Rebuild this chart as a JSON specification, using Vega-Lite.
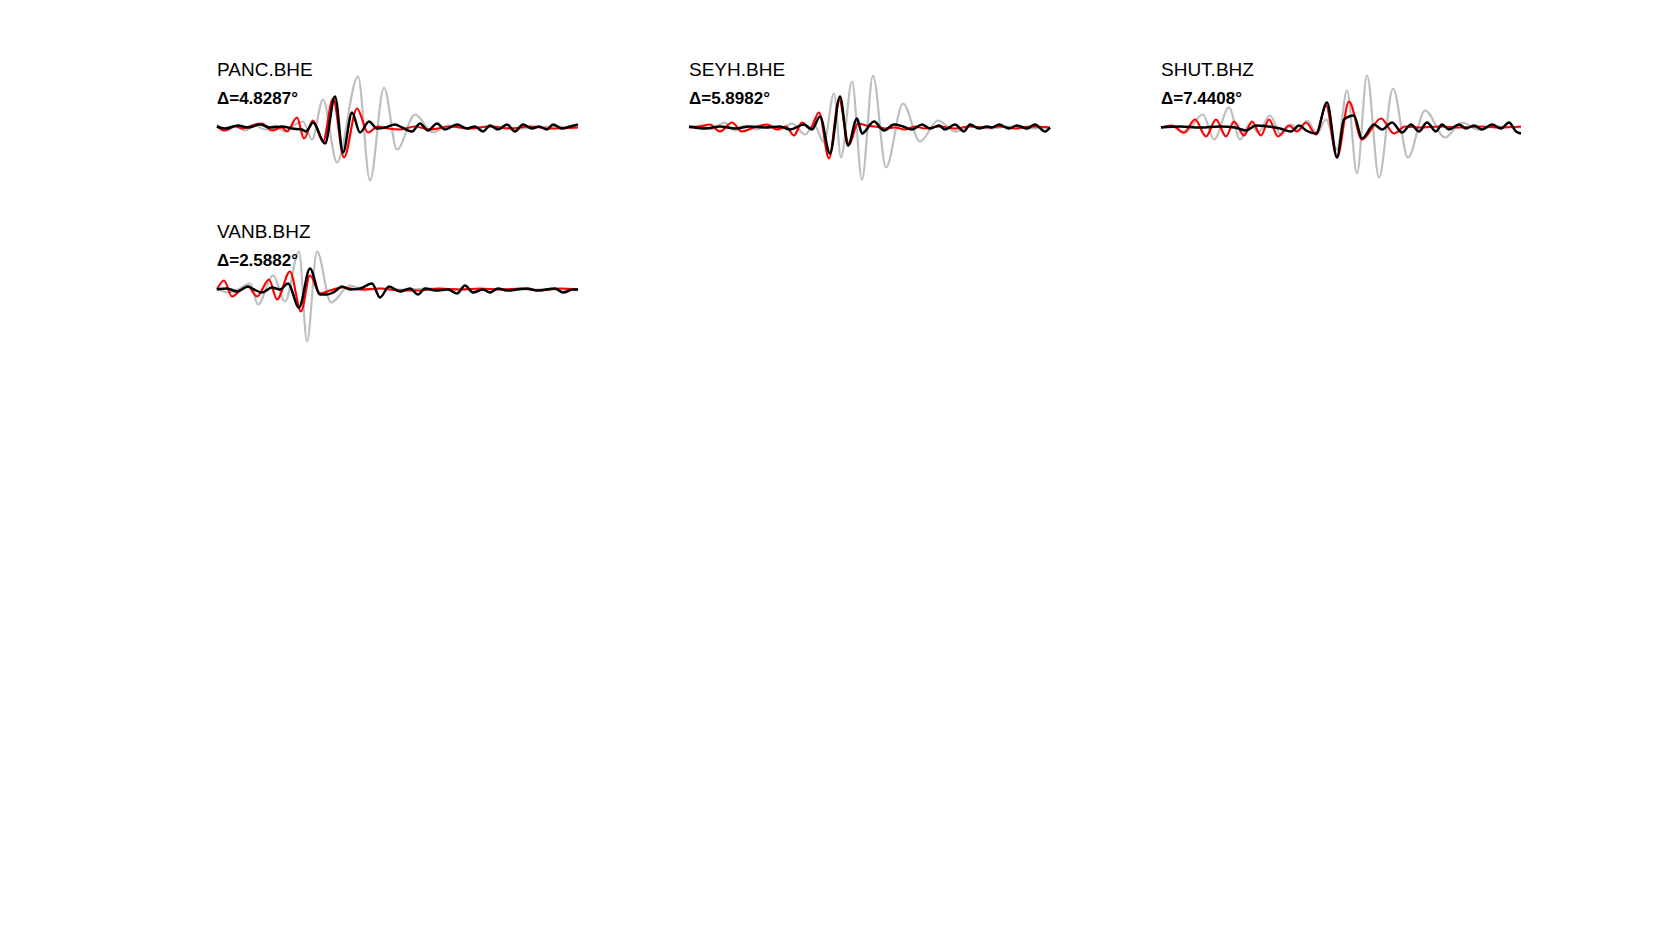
{
"$schema": "https://vega.github.io/schema/vega-lite/v6.json",
"background": "white",
"padding": {"left": 212, "top": 60.5, "right": 0, "bottom": 0},
"datasets": {
"w": [
{"s":"PANC","c":"g","t":0,"v":3},{"s":"PANC","c":"g","t":8,"v":-3},{"s":"PANC","c":"g","t":18,"v":2},{"s":"PANC","c":"g","t":28,"v":-3},{"s":"PANC","c":"g","t":38,"v":2},{"s":"PANC","c":"g","t":48,"v":-2},{"s":"PANC","c":"g","t":58,"v":2},{"s":"PANC","c":"g","t":68,"v":-4},{"s":"PANC","c":"g","t":78,"v":3},{"s":"PANC","c":"g","t":86,"v":6},{"s":"PANC","c":"g","t":95,"v":-12},{"s":"PANC","c":"g","t":106,"v":28},{"s":"PANC","c":"g","t":120,"v":-35},{"s":"PANC","c":"g","t":141,"v":51},{"s":"PANC","c":"g","t":153,"v":-53},{"s":"PANC","c":"g","t":167,"v":40},{"s":"PANC","c":"g","t":180,"v":-22},{"s":"PANC","c":"g","t":198,"v":13},{"s":"PANC","c":"g","t":216,"v":-5},{"s":"PANC","c":"g","t":231,"v":2},{"s":"PANC","c":"g","t":248,"v":-1},{"s":"PANC","c":"g","t":273,"v":1},{"s":"PANC","c":"g","t":303,"v":-1},{"s":"PANC","c":"g","t":333,"v":1},{"s":"PANC","c":"g","t":361,"v":0},
{"s":"PANC","c":"r","t":0,"v":1},{"s":"PANC","c":"r","t":8,"v":-3},{"s":"PANC","c":"r","t":18,"v":1},{"s":"PANC","c":"r","t":26,"v":-1},{"s":"PANC","c":"r","t":35,"v":2},{"s":"PANC","c":"r","t":45,"v":4},{"s":"PANC","c":"r","t":55,"v":-3},{"s":"PANC","c":"r","t":65,"v":0},{"s":"PANC","c":"r","t":70,"v":-4},{"s":"PANC","c":"r","t":80,"v":10},{"s":"PANC","c":"r","t":87,"v":-11},{"s":"PANC","c":"r","t":96,"v":7},{"s":"PANC","c":"r","t":106,"v":-14},{"s":"PANC","c":"r","t":116,"v":29},{"s":"PANC","c":"r","t":127,"v":-30},{"s":"PANC","c":"r","t":140,"v":19},{"s":"PANC","c":"r","t":151,"v":-5},{"s":"PANC","c":"r","t":161,"v":1},{"s":"PANC","c":"r","t":171,"v":-1},{"s":"PANC","c":"r","t":183,"v":-2},{"s":"PANC","c":"r","t":198,"v":1},{"s":"PANC","c":"r","t":213,"v":-2},{"s":"PANC","c":"r","t":233,"v":1},{"s":"PANC","c":"r","t":253,"v":-1},{"s":"PANC","c":"r","t":273,"v":1},{"s":"PANC","c":"r","t":293,"v":-1},{"s":"PANC","c":"r","t":313,"v":1},{"s":"PANC","c":"r","t":333,"v":-1},{"s":"PANC","c":"r","t":361,"v":0},
{"s":"PANC","c":"k","t":0,"v":1},{"s":"PANC","c":"k","t":8,"v":-1},{"s":"PANC","c":"k","t":21,"v":2},{"s":"PANC","c":"k","t":31,"v":0},{"s":"PANC","c":"k","t":43,"v":3},{"s":"PANC","c":"k","t":53,"v":0},{"s":"PANC","c":"k","t":65,"v":1},{"s":"PANC","c":"k","t":75,"v":-1},{"s":"PANC","c":"k","t":85,"v":-2},{"s":"PANC","c":"k","t":89,"v":-4},{"s":"PANC","c":"k","t":96,"v":5},{"s":"PANC","c":"k","t":108,"v":-16},{"s":"PANC","c":"k","t":118,"v":31},{"s":"PANC","c":"k","t":126,"v":-25},{"s":"PANC","c":"k","t":135,"v":15},{"s":"PANC","c":"k","t":143,"v":-5},{"s":"PANC","c":"k","t":152,"v":6},{"s":"PANC","c":"k","t":160,"v":-1},{"s":"PANC","c":"k","t":168,"v":0},{"s":"PANC","c":"k","t":178,"v":3},{"s":"PANC","c":"k","t":185,"v":0},{"s":"PANC","c":"k","t":195,"v":-4},{"s":"PANC","c":"k","t":203,"v":4},{"s":"PANC","c":"k","t":211,"v":-3},{"s":"PANC","c":"k","t":220,"v":4},{"s":"PANC","c":"k","t":228,"v":-2},{"s":"PANC","c":"k","t":240,"v":3},{"s":"PANC","c":"k","t":250,"v":-1},{"s":"PANC","c":"k","t":258,"v":1},{"s":"PANC","c":"k","t":266,"v":-4},{"s":"PANC","c":"k","t":273,"v":2},{"s":"PANC","c":"k","t":281,"v":-2},{"s":"PANC","c":"k","t":290,"v":3},{"s":"PANC","c":"k","t":298,"v":-4},{"s":"PANC","c":"k","t":306,"v":3},{"s":"PANC","c":"k","t":315,"v":-1},{"s":"PANC","c":"k","t":322,"v":1},{"s":"PANC","c":"k","t":330,"v":-2},{"s":"PANC","c":"k","t":336,"v":3},{"s":"PANC","c":"k","t":345,"v":-1},{"s":"PANC","c":"k","t":353,"v":1},{"s":"PANC","c":"k","t":361,"v":3},
{"s":"SEYH","c":"g","t":0,"v":0},{"s":"SEYH","c":"g","t":11,"v":2},{"s":"SEYH","c":"g","t":23,"v":-2},{"s":"SEYH","c":"g","t":35,"v":5},{"s":"SEYH","c":"g","t":46,"v":-3},{"s":"SEYH","c":"g","t":56,"v":2},{"s":"SEYH","c":"g","t":68,"v":-2},{"s":"SEYH","c":"g","t":79,"v":3},{"s":"SEYH","c":"g","t":91,"v":-2},{"s":"SEYH","c":"g","t":103,"v":4},{"s":"SEYH","c":"g","t":116,"v":-7},{"s":"SEYH","c":"g","t":125,"v":3},{"s":"SEYH","c":"g","t":135,"v":-15},{"s":"SEYH","c":"g","t":145,"v":34},{"s":"SEYH","c":"g","t":152,"v":-30},{"s":"SEYH","c":"g","t":163,"v":46},{"s":"SEYH","c":"g","t":173,"v":-52},{"s":"SEYH","c":"g","t":184,"v":52},{"s":"SEYH","c":"g","t":197,"v":-40},{"s":"SEYH","c":"g","t":214,"v":24},{"s":"SEYH","c":"g","t":231,"v":-14},{"s":"SEYH","c":"g","t":249,"v":7},{"s":"SEYH","c":"g","t":266,"v":-4},{"s":"SEYH","c":"g","t":281,"v":1},{"s":"SEYH","c":"g","t":301,"v":-1},{"s":"SEYH","c":"g","t":321,"v":1},{"s":"SEYH","c":"g","t":341,"v":-1},{"s":"SEYH","c":"g","t":361,"v":0},
{"s":"SEYH","c":"r","t":0,"v":0},{"s":"SEYH","c":"r","t":11,"v":1},{"s":"SEYH","c":"r","t":21,"v":3},{"s":"SEYH","c":"r","t":31,"v":-4},{"s":"SEYH","c":"r","t":43,"v":5},{"s":"SEYH","c":"r","t":53,"v":-4},{"s":"SEYH","c":"r","t":65,"v":0},{"s":"SEYH","c":"r","t":78,"v":3},{"s":"SEYH","c":"r","t":88,"v":-2},{"s":"SEYH","c":"r","t":97,"v":1},{"s":"SEYH","c":"r","t":105,"v":-8},{"s":"SEYH","c":"r","t":113,"v":5},{"s":"SEYH","c":"r","t":121,"v":-1},{"s":"SEYH","c":"r","t":130,"v":15},{"s":"SEYH","c":"r","t":140,"v":-31},{"s":"SEYH","c":"r","t":150,"v":28},{"s":"SEYH","c":"r","t":160,"v":-17},{"s":"SEYH","c":"r","t":169,"v":4},{"s":"SEYH","c":"r","t":177,"v":2},{"s":"SEYH","c":"r","t":186,"v":1},{"s":"SEYH","c":"r","t":196,"v":-1},{"s":"SEYH","c":"r","t":206,"v":0},{"s":"SEYH","c":"r","t":216,"v":-2},{"s":"SEYH","c":"r","t":226,"v":1},{"s":"SEYH","c":"r","t":236,"v":-1},{"s":"SEYH","c":"r","t":251,"v":1},{"s":"SEYH","c":"r","t":266,"v":-1},{"s":"SEYH","c":"r","t":281,"v":1},{"s":"SEYH","c":"r","t":296,"v":0},{"s":"SEYH","c":"r","t":311,"v":1},{"s":"SEYH","c":"r","t":326,"v":-1},{"s":"SEYH","c":"r","t":341,"v":1},{"s":"SEYH","c":"r","t":361,"v":0},
{"s":"SEYH","c":"k","t":0,"v":1},{"s":"SEYH","c":"k","t":16,"v":-1},{"s":"SEYH","c":"k","t":31,"v":1},{"s":"SEYH","c":"k","t":46,"v":-1},{"s":"SEYH","c":"k","t":61,"v":1},{"s":"SEYH","c":"k","t":76,"v":0},{"s":"SEYH","c":"k","t":91,"v":1},{"s":"SEYH","c":"k","t":101,"v":-2},{"s":"SEYH","c":"k","t":115,"v":3},{"s":"SEYH","c":"k","t":123,"v":-2},{"s":"SEYH","c":"k","t":131,"v":11},{"s":"SEYH","c":"k","t":141,"v":-26},{"s":"SEYH","c":"k","t":151,"v":31},{"s":"SEYH","c":"k","t":159,"v":-18},{"s":"SEYH","c":"k","t":168,"v":9},{"s":"SEYH","c":"k","t":173,"v":-6},{"s":"SEYH","c":"k","t":185,"v":6},{"s":"SEYH","c":"k","t":195,"v":-3},{"s":"SEYH","c":"k","t":205,"v":3},{"s":"SEYH","c":"k","t":214,"v":1},{"s":"SEYH","c":"k","t":223,"v":-2},{"s":"SEYH","c":"k","t":233,"v":3},{"s":"SEYH","c":"k","t":241,"v":-1},{"s":"SEYH","c":"k","t":250,"v":2},{"s":"SEYH","c":"k","t":256,"v":-2},{"s":"SEYH","c":"k","t":266,"v":3},{"s":"SEYH","c":"k","t":275,"v":-4},{"s":"SEYH","c":"k","t":281,"v":3},{"s":"SEYH","c":"k","t":290,"v":-1},{"s":"SEYH","c":"k","t":298,"v":1},{"s":"SEYH","c":"k","t":303,"v":0},{"s":"SEYH","c":"k","t":310,"v":3},{"s":"SEYH","c":"k","t":320,"v":-1},{"s":"SEYH","c":"k","t":328,"v":2},{"s":"SEYH","c":"k","t":338,"v":-1},{"s":"SEYH","c":"k","t":346,"v":3},{"s":"SEYH","c":"k","t":356,"v":-4},{"s":"SEYH","c":"k","t":361,"v":0},
{"s":"SHUT","c":"g","t":0,"v":0},{"s":"SHUT","c":"g","t":9,"v":2},{"s":"SHUT","c":"g","t":23,"v":-6},{"s":"SHUT","c":"g","t":42,"v":13},{"s":"SHUT","c":"g","t":53,"v":-12},{"s":"SHUT","c":"g","t":68,"v":20},{"s":"SHUT","c":"g","t":79,"v":-12},{"s":"SHUT","c":"g","t":89,"v":4},{"s":"SHUT","c":"g","t":97,"v":-5},{"s":"SHUT","c":"g","t":109,"v":12},{"s":"SHUT","c":"g","t":120,"v":-8},{"s":"SHUT","c":"g","t":130,"v":3},{"s":"SHUT","c":"g","t":138,"v":-3},{"s":"SHUT","c":"g","t":146,"v":7},{"s":"SHUT","c":"g","t":156,"v":-6},{"s":"SHUT","c":"g","t":165,"v":8},{"s":"SHUT","c":"g","t":176,"v":-22},{"s":"SHUT","c":"g","t":186,"v":37},{"s":"SHUT","c":"g","t":196,"v":-46},{"s":"SHUT","c":"g","t":206,"v":52},{"s":"SHUT","c":"g","t":218,"v":-50},{"s":"SHUT","c":"g","t":232,"v":39},{"s":"SHUT","c":"g","t":247,"v":-30},{"s":"SHUT","c":"g","t":264,"v":17},{"s":"SHUT","c":"g","t":284,"v":-10},{"s":"SHUT","c":"g","t":301,"v":5},{"s":"SHUT","c":"g","t":317,"v":-2},{"s":"SHUT","c":"g","t":334,"v":1},{"s":"SHUT","c":"g","t":360,"v":0},
{"s":"SHUT","c":"r","t":0,"v":0},{"s":"SHUT","c":"r","t":11,"v":2},{"s":"SHUT","c":"r","t":23,"v":-5},{"s":"SHUT","c":"r","t":34,"v":8},{"s":"SHUT","c":"r","t":45,"v":-9},{"s":"SHUT","c":"r","t":55,"v":8},{"s":"SHUT","c":"r","t":65,"v":-9},{"s":"SHUT","c":"r","t":73,"v":6},{"s":"SHUT","c":"r","t":83,"v":-8},{"s":"SHUT","c":"r","t":91,"v":6},{"s":"SHUT","c":"r","t":100,"v":-8},{"s":"SHUT","c":"r","t":108,"v":8},{"s":"SHUT","c":"r","t":117,"v":-9},{"s":"SHUT","c":"r","t":128,"v":2},{"s":"SHUT","c":"r","t":136,"v":-4},{"s":"SHUT","c":"r","t":145,"v":5},{"s":"SHUT","c":"r","t":155,"v":-7},{"s":"SHUT","c":"r","t":165,"v":22},{"s":"SHUT","c":"r","t":176,"v":-30},{"s":"SHUT","c":"r","t":188,"v":26},{"s":"SHUT","c":"r","t":201,"v":-12},{"s":"SHUT","c":"r","t":220,"v":9},{"s":"SHUT","c":"r","t":233,"v":-6},{"s":"SHUT","c":"r","t":244,"v":1},{"s":"SHUT","c":"r","t":259,"v":0},{"s":"SHUT","c":"r","t":279,"v":1},{"s":"SHUT","c":"r","t":299,"v":0},{"s":"SHUT","c":"r","t":319,"v":1},{"s":"SHUT","c":"r","t":339,"v":0},{"s":"SHUT","c":"r","t":360,"v":1},
{"s":"SHUT","c":"k","t":0,"v":0},{"s":"SHUT","c":"k","t":19,"v":1},{"s":"SHUT","c":"k","t":39,"v":0},{"s":"SHUT","c":"k","t":59,"v":1},{"s":"SHUT","c":"k","t":74,"v":0},{"s":"SHUT","c":"k","t":85,"v":-3},{"s":"SHUT","c":"k","t":95,"v":2},{"s":"SHUT","c":"k","t":107,"v":1},{"s":"SHUT","c":"k","t":119,"v":-1},{"s":"SHUT","c":"k","t":130,"v":-4},{"s":"SHUT","c":"k","t":138,"v":2},{"s":"SHUT","c":"k","t":145,"v":-3},{"s":"SHUT","c":"k","t":155,"v":-6},{"s":"SHUT","c":"k","t":166,"v":25},{"s":"SHUT","c":"k","t":176,"v":-30},{"s":"SHUT","c":"k","t":183,"v":8},{"s":"SHUT","c":"k","t":193,"v":12},{"s":"SHUT","c":"k","t":201,"v":-11},{"s":"SHUT","c":"k","t":213,"v":3},{"s":"SHUT","c":"k","t":221,"v":-2},{"s":"SHUT","c":"k","t":231,"v":5},{"s":"SHUT","c":"k","t":241,"v":-5},{"s":"SHUT","c":"k","t":250,"v":3},{"s":"SHUT","c":"k","t":258,"v":-4},{"s":"SHUT","c":"k","t":266,"v":5},{"s":"SHUT","c":"k","t":275,"v":-4},{"s":"SHUT","c":"k","t":281,"v":3},{"s":"SHUT","c":"k","t":288,"v":-2},{"s":"SHUT","c":"k","t":298,"v":3},{"s":"SHUT","c":"k","t":305,"v":-1},{"s":"SHUT","c":"k","t":313,"v":2},{"s":"SHUT","c":"k","t":321,"v":-2},{"s":"SHUT","c":"k","t":331,"v":3},{"s":"SHUT","c":"k","t":340,"v":-1},{"s":"SHUT","c":"k","t":348,"v":5},{"s":"SHUT","c":"k","t":355,"v":-4},{"s":"SHUT","c":"k","t":360,"v":-6},
{"s":"VANB","c":"g","t":0,"v":1},{"s":"VANB","c":"g","t":11,"v":-3},{"s":"VANB","c":"g","t":21,"v":0},{"s":"VANB","c":"g","t":33,"v":6},{"s":"VANB","c":"g","t":41,"v":-15},{"s":"VANB","c":"g","t":56,"v":14},{"s":"VANB","c":"g","t":68,"v":-12},{"s":"VANB","c":"g","t":82,"v":38},{"s":"VANB","c":"g","t":90,"v":-52},{"s":"VANB","c":"g","t":100,"v":38},{"s":"VANB","c":"g","t":114,"v":-13},{"s":"VANB","c":"g","t":133,"v":4},{"s":"VANB","c":"g","t":148,"v":-1},{"s":"VANB","c":"g","t":163,"v":1},{"s":"VANB","c":"g","t":183,"v":0},{"s":"VANB","c":"g","t":213,"v":1},{"s":"VANB","c":"g","t":243,"v":0},{"s":"VANB","c":"g","t":283,"v":0},{"s":"VANB","c":"g","t":323,"v":0},{"s":"VANB","c":"g","t":361,"v":0},
{"s":"VANB","c":"r","t":0,"v":0},{"s":"VANB","c":"r","t":7,"v":9},{"s":"VANB","c":"r","t":15,"v":-7},{"s":"VANB","c":"r","t":23,"v":-1},{"s":"VANB","c":"r","t":31,"v":3},{"s":"VANB","c":"r","t":40,"v":-7},{"s":"VANB","c":"r","t":52,"v":10},{"s":"VANB","c":"r","t":60,"v":-10},{"s":"VANB","c":"r","t":73,"v":18},{"s":"VANB","c":"r","t":84,"v":-22},{"s":"VANB","c":"r","t":93,"v":14},{"s":"VANB","c":"r","t":103,"v":-4},{"s":"VANB","c":"r","t":113,"v":-1},{"s":"VANB","c":"r","t":125,"v":2},{"s":"VANB","c":"r","t":143,"v":0},{"s":"VANB","c":"r","t":163,"v":1},{"s":"VANB","c":"r","t":183,"v":-1},{"s":"VANB","c":"r","t":201,"v":-1},{"s":"VANB","c":"r","t":223,"v":1},{"s":"VANB","c":"r","t":243,"v":0},{"s":"VANB","c":"r","t":263,"v":1},{"s":"VANB","c":"r","t":283,"v":0},{"s":"VANB","c":"r","t":303,"v":1},{"s":"VANB","c":"r","t":323,"v":-1},{"s":"VANB","c":"r","t":343,"v":1},{"s":"VANB","c":"r","t":361,"v":0},
{"s":"VANB","c":"k","t":0,"v":0},{"s":"VANB","c":"k","t":10,"v":1},{"s":"VANB","c":"k","t":20,"v":-2},{"s":"VANB","c":"k","t":31,"v":3},{"s":"VANB","c":"k","t":37,"v":0},{"s":"VANB","c":"k","t":45,"v":-3},{"s":"VANB","c":"k","t":55,"v":2},{"s":"VANB","c":"k","t":63,"v":0},{"s":"VANB","c":"k","t":71,"v":6},{"s":"VANB","c":"k","t":82,"v":-18},{"s":"VANB","c":"k","t":93,"v":21},{"s":"VANB","c":"k","t":103,"v":-5},{"s":"VANB","c":"k","t":109,"v":-5},{"s":"VANB","c":"k","t":118,"v":-2},{"s":"VANB","c":"k","t":125,"v":3},{"s":"VANB","c":"k","t":133,"v":0},{"s":"VANB","c":"k","t":143,"v":1},{"s":"VANB","c":"k","t":155,"v":6},{"s":"VANB","c":"k","t":163,"v":-8},{"s":"VANB","c":"k","t":172,"v":3},{"s":"VANB","c":"k","t":183,"v":-2},{"s":"VANB","c":"k","t":193,"v":1},{"s":"VANB","c":"k","t":201,"v":-5},{"s":"VANB","c":"k","t":208,"v":1},{"s":"VANB","c":"k","t":219,"v":-1},{"s":"VANB","c":"k","t":231,"v":0},{"s":"VANB","c":"k","t":240,"v":-4},{"s":"VANB","c":"k","t":248,"v":4},{"s":"VANB","c":"k","t":256,"v":-3},{"s":"VANB","c":"k","t":266,"v":0},{"s":"VANB","c":"k","t":273,"v":-3},{"s":"VANB","c":"k","t":281,"v":1},{"s":"VANB","c":"k","t":290,"v":-1},{"s":"VANB","c":"k","t":300,"v":0},{"s":"VANB","c":"k","t":310,"v":1},{"s":"VANB","c":"k","t":320,"v":-1},{"s":"VANB","c":"k","t":338,"v":1},{"s":"VANB","c":"k","t":346,"v":-3},{"s":"VANB","c":"k","t":356,"v":0},{"s":"VANB","c":"k","t":361,"v":0}
]
},
"data": {"name": "w"},
"columns": 3,
"spacing": {"row": 42, "column": 111},
"bounds": "flush",
"concat": [
{
"width": 361, "height": 120,
"title": {"text": "PANC.BHE", "subtitle": "Δ=4.8287°"},
"transform": [{"filter": "datum.s === 'PANC'"}],
"encoding": {
"x": {"field": "t", "type": "quantitative", "scale": {"domain": [0, 361], "nice": false, "zero": false}, "axis": null},
"y": {"field": "v", "type": "quantitative", "scale": {"domain": [-60, 60], "nice": false}, "axis": null}
},
"layer": [
{"transform": [{"filter": "datum.c === 'g'"}], "mark": {"type": "line", "color": "#bebebe", "strokeWidth": 2.2, "interpolate": "monotone"}},
{"transform": [{"filter": "datum.c === 'r'"}], "mark": {"type": "line", "color": "#ff0000", "strokeWidth": 2.2, "interpolate": "monotone"}},
{"transform": [{"filter": "datum.c === 'k'"}], "mark": {"type": "line", "color": "#000000", "strokeWidth": 2.5, "interpolate": "monotone"}}
]
},
{
"width": 361, "height": 120,
"title": {"text": "SEYH.BHE", "subtitle": "Δ=5.8982°"},
"transform": [{"filter": "datum.s === 'SEYH'"}],
"encoding": {
"x": {"field": "t", "type": "quantitative", "scale": {"domain": [0, 361], "nice": false, "zero": false}, "axis": null},
"y": {"field": "v", "type": "quantitative", "scale": {"domain": [-60, 60], "nice": false}, "axis": null}
},
"layer": [
{"transform": [{"filter": "datum.c === 'g'"}], "mark": {"type": "line", "color": "#bebebe", "strokeWidth": 2.2, "interpolate": "monotone"}},
{"transform": [{"filter": "datum.c === 'r'"}], "mark": {"type": "line", "color": "#ff0000", "strokeWidth": 2.2, "interpolate": "monotone"}},
{"transform": [{"filter": "datum.c === 'k'"}], "mark": {"type": "line", "color": "#000000", "strokeWidth": 2.5, "interpolate": "monotone"}}
]
},
{
"width": 361, "height": 120,
"title": {"text": "SHUT.BHZ", "subtitle": "Δ=7.4408°"},
"transform": [{"filter": "datum.s === 'SHUT'"}],
"encoding": {
"x": {"field": "t", "type": "quantitative", "scale": {"domain": [0, 361], "nice": false, "zero": false}, "axis": null},
"y": {"field": "v", "type": "quantitative", "scale": {"domain": [-60, 60], "nice": false}, "axis": null}
},
"layer": [
{"transform": [{"filter": "datum.c === 'g'"}], "mark": {"type": "line", "color": "#bebebe", "strokeWidth": 2.2, "interpolate": "monotone"}},
{"transform": [{"filter": "datum.c === 'r'"}], "mark": {"type": "line", "color": "#ff0000", "strokeWidth": 2.2, "interpolate": "monotone"}},
{"transform": [{"filter": "datum.c === 'k'"}], "mark": {"type": "line", "color": "#000000", "strokeWidth": 2.5, "interpolate": "monotone"}}
]
},
{
"width": 361, "height": 120,
"title": {"text": "VANB.BHZ", "subtitle": "Δ=2.5882°"},
"transform": [{"filter": "datum.s === 'VANB'"}],
"encoding": {
"x": {"field": "t", "type": "quantitative", "scale": {"domain": [0, 361], "nice": false, "zero": false}, "axis": null},
"y": {"field": "v", "type": "quantitative", "scale": {"domain": [-60, 60], "nice": false}, "axis": null}
},
"layer": [
{"transform": [{"filter": "datum.c === 'g'"}], "mark": {"type": "line", "color": "#bebebe", "strokeWidth": 2.2, "interpolate": "monotone"}},
{"transform": [{"filter": "datum.c === 'r'"}], "mark": {"type": "line", "color": "#ff0000", "strokeWidth": 2.2, "interpolate": "monotone"}},
{"transform": [{"filter": "datum.c === 'k'"}], "mark": {"type": "line", "color": "#000000", "strokeWidth": 2.5, "interpolate": "monotone"}}
]
}
],
"config": {
"view": {"stroke": null},
"title": {"anchor": "start", "frame": "group", "offset": -39, "font": "Liberation Sans", "fontSize": 19, "fontWeight": "normal", "color": "#000000", "subtitleFont": "Liberation Sans", "subtitleFontSize": 17, "subtitleFontWeight": "bold", "subtitleColor": "#000000", "subtitlePadding": 11}
}
}
